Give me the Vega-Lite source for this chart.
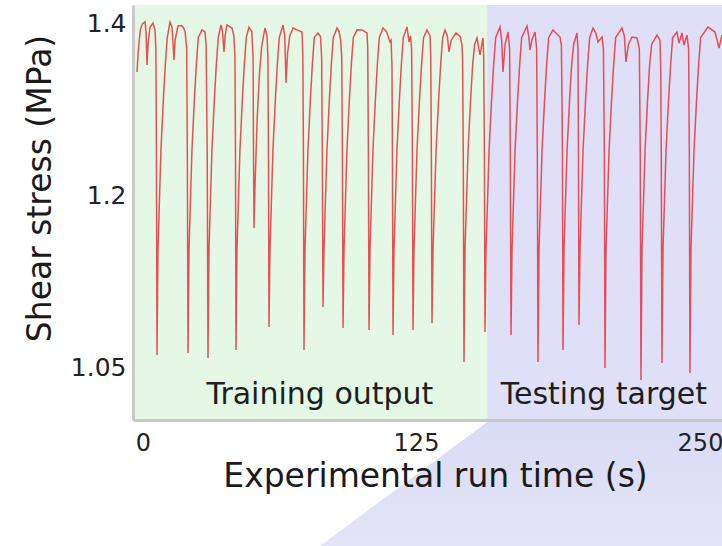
{
  "$schema": "https://vega.github.io/schema/vega-lite/v6.json",
  "width": 589,
  "height": 415,
  "autosize": "none",
  "padding": {"left": 133, "top": 5, "right": 0, "bottom": 126},
  "background": "white",
  "config": {"view": {"stroke": null}, "font": "DejaVu Sans"},
  "datasets": {
    "deco": [
      {"t": 81, "v": 0.85, "v2": 0.85},
      {"t": 81, "v": 0.8939, "v2": 0.85},
      {"t": 157.6, "v": 1.00378, "v2": 0.85},
      {"t": 270, "v": 1.00378, "v2": 0.85}
    ],
    "regions": [
      {"region": "Training", "t": -4.58, "t2": 156.3},
      {"region": "Testing", "t": 156.3, "t2": 259.66}
    ],
    "labels": [
      {"label": "Training output", "t": 81.0, "v": 1.0256},
      {"label": "Testing target", "t": 207.7, "v": 1.0256}
    ],
    "signal": [
      {"t":-2.75,"v":1.343},{"t":-2.3,"v":1.362},{"t":-1.8,"v":1.378},{"t":-1.2,"v":1.392},{"t":-0.3,"v":1.399},{"t":0.92,"v":1.4012},{"t":1.4,"v":1.39},{"t":1.83,"v":1.3512},{"t":2.3,"v":1.375},{"t":3.2,"v":1.395},{"t":4.58,"v":1.4},{"t":5.5,"v":1.392},{"t":5.9,"v":1.37},{"t":6.15,"v":1.25},{"t":6.41,"v":1.0605},
      {"t":6.86,"v":1.152},{"t":8.21,"v":1.252},{"t":9.31,"v":1.31},{"t":10.21,"v":1.351},{"t":11.11,"v":1.383},{"t":12.36,"v":1.4012},{"t":13.3,"v":1.395},{"t":14.19,"v":1.357},{"t":14.7,"v":1.38},{"t":16.03,"v":1.3965},{"t":17.5,"v":1.397},{"t":18.32,"v":1.3953},{"t":19.3,"v":1.39},{"t":20.0,"v":1.37},{"t":20.3,"v":1.25},{"t":20.61,"v":1.0622},
      {"t":21.06,"v":1.152},{"t":22.41,"v":1.252},{"t":23.51,"v":1.31},{"t":24.41,"v":1.351},{"t":25.31,"v":1.383},{"t":27.02,"v":1.3919},{"t":28.39,"v":1.3895},{"t":28.9,"v":1.375},{"t":29.4,"v":1.25},{"t":29.76,"v":1.0578},
      {"t":30.21,"v":1.152},{"t":31.56,"v":1.252},{"t":32.66,"v":1.31},{"t":33.56,"v":1.351},{"t":34.46,"v":1.383},{"t":35.72,"v":1.3977},{"t":36.4,"v":1.39},{"t":37.09,"v":1.3663},{"t":37.6,"v":1.385},{"t":38.46,"v":1.3977},{"t":40.75,"v":1.3942},{"t":41.6,"v":1.385},{"t":42.1,"v":1.36},{"t":42.35,"v":1.25},{"t":42.58,"v":1.0648},
      {"t":43.03,"v":1.152},{"t":44.38,"v":1.252},{"t":45.48,"v":1.31},{"t":46.38,"v":1.351},{"t":47.28,"v":1.383},{"t":48.54,"v":1.3953},{"t":49.8,"v":1.39},{"t":50.4,"v":1.36},{"t":50.6,"v":1.25},{"t":50.83,"v":1.1712},
      {"t":51.28,"v":1.21},{"t":52.3,"v":1.29},{"t":53.3,"v":1.34},{"t":54.3,"v":1.372},{"t":55.86,"v":1.3942},{"t":56.8,"v":1.385},{"t":57.2,"v":1.36},{"t":57.45,"v":1.25},{"t":57.69,"v":1.0849},
      {"t":58.14,"v":1.152},{"t":59.49,"v":1.252},{"t":60.59,"v":1.31},{"t":61.49,"v":1.351},{"t":62.39,"v":1.383},{"t":64.11,"v":1.3977},{"t":64.9,"v":1.385},{"t":65.48,"v":1.3302},{"t":66.2,"v":1.365},{"t":67.2,"v":1.385},{"t":68.69,"v":1.3942},{"t":70.5,"v":1.392},{"t":72.81,"v":1.3895},{"t":73.2,"v":1.36},{"t":73.45,"v":1.25},{"t":73.72,"v":1.0648},
      {"t":74.17,"v":1.152},{"t":75.52,"v":1.252},{"t":76.62,"v":1.31},{"t":77.52,"v":1.351},{"t":78.42,"v":1.383},{"t":80.13,"v":1.3884},{"t":81.3,"v":1.384},{"t":81.8,"v":1.36},{"t":82.1,"v":1.25},{"t":82.42,"v":1.1023},
      {"t":82.87,"v":1.152},{"t":84.22,"v":1.252},{"t":85.32,"v":1.31},{"t":86.22,"v":1.351},{"t":87.12,"v":1.383},{"t":88.83,"v":1.3942},{"t":89.8,"v":1.39},{"t":90.5,"v":1.38},{"t":91.0,"v":1.36},{"t":91.3,"v":1.25},{"t":91.58,"v":1.084},
      {"t":92.03,"v":1.152},{"t":93.38,"v":1.252},{"t":94.48,"v":1.31},{"t":95.38,"v":1.351},{"t":96.28,"v":1.383},{"t":98.0,"v":1.392},{"t":100.28,"v":1.3919},{"t":102.57,"v":1.3884},{"t":102.9,"v":1.37},{"t":103.2,"v":1.25},{"t":103.49,"v":1.0823},
      {"t":103.94,"v":1.152},{"t":105.29,"v":1.252},{"t":106.39,"v":1.31},{"t":107.29,"v":1.351},{"t":108.19,"v":1.383},{"t":109.9,"v":1.3942},{"t":111.5,"v":1.39},{"t":113.1,"v":1.3779},{"t":113.6,"v":1.38},{"t":114.0,"v":1.35},{"t":114.2,"v":1.25},{"t":114.48,"v":1.0779},
      {"t":114.93,"v":1.152},{"t":116.28,"v":1.252},{"t":117.38,"v":1.31},{"t":118.28,"v":1.351},{"t":119.18,"v":1.383},{"t":120.89,"v":1.3953},{"t":121.81,"v":1.3779},{"t":122.5,"v":1.385},{"t":123.0,"v":1.37},{"t":123.35,"v":1.25},{"t":123.63,"v":1.0823},
      {"t":124.08,"v":1.152},{"t":125.43,"v":1.252},{"t":126.53,"v":1.31},{"t":127.43,"v":1.351},{"t":128.33,"v":1.383},{"t":129.84,"v":1.3919},{"t":131.2,"v":1.385},{"t":131.5,"v":1.36},{"t":131.75,"v":1.25},{"t":132.04,"v":1.0884},
      {"t":132.49,"v":1.152},{"t":133.84,"v":1.252},{"t":134.94,"v":1.31},{"t":135.84,"v":1.351},{"t":136.74,"v":1.383},{"t":137.76,"v":1.3919},{"t":138.8,"v":1.385},{"t":139.52,"v":1.3663},{"t":140.5,"v":1.38},{"t":142.6,"v":1.3884},{"t":144.5,"v":1.384},{"t":145.24,"v":1.3744},{"t":145.5,"v":1.36},{"t":145.8,"v":1.25},{"t":146.12,"v":1.0544},
      {"t":146.57,"v":1.152},{"t":147.92,"v":1.252},{"t":149.02,"v":1.31},{"t":149.92,"v":1.351},{"t":150.82,"v":1.375},{"t":151.85,"v":1.3826},{"t":153.17,"v":1.3628},{"t":154.49,"v":1.3826},{"t":154.8,"v":1.36},{"t":155.1,"v":1.25},{"t":155.37,"v":1.0805},
      {"t":155.82,"v":1.152},{"t":157.17,"v":1.252},{"t":158.27,"v":1.31},{"t":159.17,"v":1.351},{"t":160.07,"v":1.383},{"t":161.97,"v":1.3953},{"t":162.7,"v":1.38},{"t":163.29,"v":1.343},{"t":164.2,"v":1.375},{"t":165.49,"v":1.3895},{"t":166.2,"v":1.37},{"t":166.5,"v":1.25},{"t":166.81,"v":1.0779},
      {"t":167.26,"v":1.152},{"t":168.61,"v":1.252},{"t":169.71,"v":1.31},{"t":170.61,"v":1.351},{"t":171.51,"v":1.383},{"t":173.85,"v":1.3965},{"t":174.6,"v":1.385},{"t":175.17,"v":1.3686},{"t":176.0,"v":1.38},{"t":177.37,"v":1.3895},{"t":178.1,"v":1.37},{"t":178.4,"v":1.25},{"t":178.69,"v":1.0544},
      {"t":179.14,"v":1.152},{"t":180.49,"v":1.252},{"t":181.59,"v":1.31},{"t":182.49,"v":1.351},{"t":183.39,"v":1.383},{"t":185.29,"v":1.3919},{"t":188.37,"v":1.3837},{"t":189.0,"v":1.3744},{"t":189.3,"v":1.3},{"t":189.45,"v":1.25},{"t":189.69,"v":1.0648},
      {"t":190.14,"v":1.152},{"t":191.49,"v":1.252},{"t":192.59,"v":1.31},{"t":193.49,"v":1.351},{"t":194.39,"v":1.375},{"t":195.85,"v":1.3884},{"t":196.3,"v":1.37},{"t":196.5,"v":1.25},{"t":196.73,"v":1.0866},
      {"t":197.18,"v":1.152},{"t":198.53,"v":1.252},{"t":199.63,"v":1.31},{"t":200.53,"v":1.351},{"t":201.43,"v":1.383},{"t":202.9,"v":1.3942},{"t":204.2,"v":1.388},{"t":205.1,"v":1.3779},{"t":206.86,"v":1.3837},{"t":207.5,"v":1.37},{"t":207.9,"v":1.25},{"t":208.18,"v":1.0491},
      {"t":208.63,"v":1.152},{"t":209.98,"v":1.252},{"t":211.08,"v":1.31},{"t":211.98,"v":1.351},{"t":212.88,"v":1.383},{"t":215.66,"v":1.3942},{"t":216.7,"v":1.385},{"t":217.42,"v":1.3547},{"t":218.5,"v":1.375},{"t":220.06,"v":1.3837},{"t":222.26,"v":1.3826},{"t":223.3,"v":1.37},{"t":223.7,"v":1.25},{"t":224.02,"v":1.0387},
      {"t":224.47,"v":1.152},{"t":225.82,"v":1.252},{"t":226.92,"v":1.31},{"t":227.82,"v":1.351},{"t":228.72,"v":1.375},{"t":231.06,"v":1.386},{"t":232.4,"v":1.38},{"t":232.7,"v":1.35},{"t":232.95,"v":1.25},{"t":233.26,"v":1.0535},
      {"t":233.71,"v":1.152},{"t":235.06,"v":1.252},{"t":236.16,"v":1.31},{"t":237.06,"v":1.351},{"t":237.96,"v":1.383},{"t":239.86,"v":1.3895},{"t":240.74,"v":1.3767},{"t":242.06,"v":1.3884},{"t":242.94,"v":1.3744},{"t":244.26,"v":1.386},{"t":245.0,"v":1.37},{"t":245.3,"v":1.25},{"t":245.58,"v":1.0448},
      {"t":246.03,"v":1.152},{"t":247.38,"v":1.252},{"t":248.48,"v":1.31},{"t":249.38,"v":1.351},{"t":250.28,"v":1.383},{"t":253.5,"v":1.3953},{"t":256.58,"v":1.3895},{"t":257.5,"v":1.38},{"t":258.34,"v":1.3709},{"t":259.66,"v":1.386}
    ]
  },
  "layer": [
    {
      "data": {"name": "deco"},
      "mark": {"type": "area", "clip": false, "color": {"gradient": "linear", "x1": 0, "y1": 0, "x2": 0, "y2": 1, "stops": [{"offset": 0, "color": "#dadcf5"}, {"offset": 1, "color": "#e6e7f8"}]}},
      "encoding": {
        "x": {
          "field": "t", "type": "quantitative",
          "scale": {"domain": [-4.58, 0, 125, 250, 259.66], "range": [0, 10, 283, 567, 589], "nice": false, "zero": false},
          "axis": {
            "title": "Experimental run time (s)", "values": [0, 125, 250], "zindex": 1,
            "ticks": false, "tickSize": 0, "grid": false,
            "domainColor": "#c8c8c8", "domainWidth": 3,
            "labelFontSize": 24, "labelColor": "#222222", "labelPadding": 11, "labelFont": "DejaVu Sans",
            "titleFontSize": 33, "titleFontWeight": "normal", "titleColor": "#1a1a1a", "titleFont": "DejaVu Sans",
            "titleBaseline": "middle", "titleY": 56, "titleX": 302
          }
        },
        "y": {
          "field": "v", "type": "quantitative",
          "scale": {"domain": [1.00378, 1.05, 1.2, 1.4, 1.42093], "range": [415, 362, 190, 18, 0], "nice": false, "zero": false},
          "axis": {
            "title": "Shear stress (MPa)", "values": [1.05, 1.2, 1.4], "format": "~g", "zindex": 1,
            "ticks": false, "tickSize": 0, "grid": false,
            "domainColor": "#c8c8c8", "domainWidth": 3,
            "labelFontSize": 25, "labelColor": "#222222", "labelPadding": 7, "labelFont": "DejaVu Sans",
            "titleFontSize": 33, "titleFontWeight": "normal", "titleColor": "#1a1a1a", "titleFont": "DejaVu Sans",
            "titleAngle": 270, "titleBaseline": "middle", "titleAlign": "center", "titleX": -93, "titleY": 183
          }
        },
        "y2": {"field": "v2"}
      }
    },
    {
      "data": {"name": "regions"},
      "mark": {"type": "rect"},
      "encoding": {
        "x": {"field": "t", "type": "quantitative"},
        "x2": {"field": "t2"},
        "color": {"field": "region", "type": "nominal", "legend": null, "scale": {"domain": ["Training", "Testing"], "range": ["#e5f8e5", "#dfe0f7"]}}
      }
    },
    {
      "data": {"name": "signal"},
      "mark": {"type": "line", "color": "#e8323a", "strokeWidth": 1.5, "opacity": 0.85, "clip": true},
      "encoding": {
        "x": {"field": "t", "type": "quantitative"},
        "y": {"field": "v", "type": "quantitative"}
      }
    },
    {
      "data": {"name": "labels"},
      "mark": {"type": "text", "fontSize": 30, "font": "DejaVu Sans", "color": "#1e1e1e", "baseline": "middle", "align": "center"},
      "encoding": {
        "x": {"field": "t", "type": "quantitative"},
        "y": {"field": "v", "type": "quantitative"},
        "text": {"field": "label"}
      }
    }
  ]
}
